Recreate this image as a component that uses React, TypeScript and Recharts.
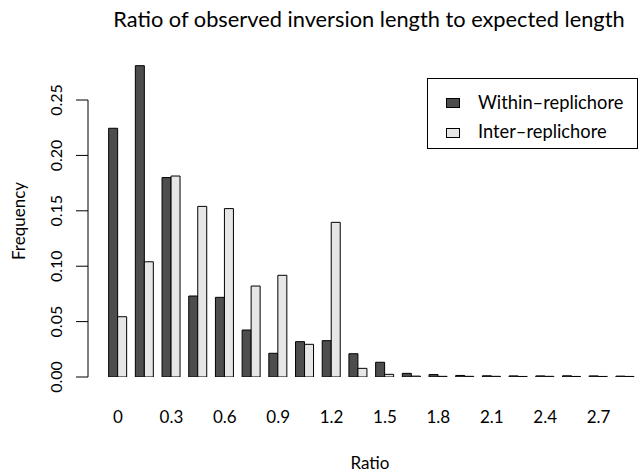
import React from 'react';
import { BarChart, Bar, XAxis, YAxis, ReferenceLine, Legend } from 'recharts';

// ratio bins (lower edge of each bin)
const ratios = [0, 0.15, 0.3, 0.45, 0.6, 0.75, 0.9, 1.05, 1.2, 1.35, 1.5, 1.65, 1.8, 1.95, 2.1, 2.25, 2.4, 2.55, 2.7, 2.85];

// frequencies
const withinReplichore = [0.2245, 0.281, 0.18, 0.0731, 0.0719, 0.0424, 0.0214, 0.0319, 0.0328, 0.021, 0.0133, 0.0033, 0.0022, 0.0014, 0.0011, 0.001, 0.001, 0.0011, 0.001, 0.0008];
const interReplichore = [0.0544, 0.104, 0.1814, 0.154, 0.152, 0.0821, 0.0918, 0.0295, 0.1396, 0.0078, 0.0024, 0.0008, 0.0006, 0.0006, 0.0006, 0.0005, 0.0006, 0.0005, 0.0005, 0.0005];

const xTicks = [0, 0.3, 0.6, 0.9, 1.2, 1.5, 1.8, 2.1, 2.4, 2.7];
const yTicks = [0, 0.05, 0.1, 0.15, 0.2, 0.25];

const seriesNames = ['Within\u2013replichore', 'Inter\u2013replichore'];
const DARK = '#4d4d4d';
const LIGHT = '#e6e6e6';
const FONT = 'Lato, "Open Sans", sans-serif';

const data = ratios.map((r, i) => ({
  ratio: r,
  within: withinReplichore[i],
  inter: interReplichore[i],
}));

const YTick = (props: any) => {
  const { x, y, payload } = props;
  const cx = x - 14;
  return (
    <text
      x={cx}
      y={y}
      transform={`rotate(-90 ${cx} ${y})`}
      textAnchor="middle"
      fontSize={16}
      fontFamily={FONT}
      fill="#000"
    >
      {Number(payload.value).toFixed(2)}
    </text>
  );
};

const LegendBox = () => (
  <svg width={211} height={71} style={{ display: 'block' }}>
    <rect x={0.5} y={0.5} width={210} height={70} fill="#fff" stroke="#000" strokeWidth={1} />
    {seriesNames.map((name, i) => (
      <g key={name}>
        <rect
          x={19.5}
          y={20.5 + i * 30}
          width={13}
          height={9}
          fill={i === 0 ? DARK : LIGHT}
          stroke="#000"
          strokeWidth={1}
        />
        <text x={51} y={30.5 + i * 29.5} fontSize={18.3} fontFamily={FONT} fill="#000">
          {name}
        </text>
      </g>
    ))}
  </svg>
);

export default function App() {
  return (
    <div style={{ position: 'absolute', left: 0, top: 0, width: 642, height: 473, background: '#fff' }}>
      <BarChart
        width={642}
        height={473}
        data={data}
        margin={{ top: 55.7, right: 0, bottom: 56, left: 0 }}
        barGap={0}
      >
        <XAxis
          dataKey="ratio"
          type="number"
          domain={[-0.1685, 2.944]}
          allowDataOverflow
          ticks={xTicks}
          tickFormatter={(v: number) => String(Number(v.toFixed(1)))}
          axisLine={false}
          tickLine={false}
          tickSize={0}
          tickMargin={34}
          height={40}
          interval={0}
          tick={{ fontSize: 17, fontFamily: FONT, fill: '#000' }}
        />
        <YAxis
          type="number"
          domain={[0, 0.29]}
          allowDataOverflow
          ticks={yTicks}
          width={88}
          axisLine={false}
          tickLine={{ stroke: '#000', strokeWidth: 1 }}
          tickSize={12}
          tickMargin={0}
          tick={<YTick />}
          interval={0}
        />
        <ReferenceLine
          segment={[{ x: -0.1685, y: 0 }, { x: -0.1685, y: 0.25 }]}
          stroke="#000"
          strokeWidth={1}
          ifOverflow="visible"
        />
        <Legend
          layout="vertical"
          align="center"
          verticalAlign="middle"
          content={() => <LegendBox />}
          wrapperStyle={{ position: 'absolute', left: 427, top: 78, width: 211, height: 71 }}
        />
        <Bar dataKey="within" name={seriesNames[0]} fill={DARK} stroke="#000" strokeWidth={1} barSize={9} isAnimationActive={false} />
        <Bar dataKey="inter" name={seriesNames[1]} fill={LIGHT} stroke="#000" strokeWidth={1} barSize={9} isAnimationActive={false} />
      </BarChart>
      <svg
        width={642}
        height={473}
        style={{ position: 'absolute', left: 0, top: 0, pointerEvents: 'none' }}
      >
        <text x={369} y={27} textAnchor="middle" fontSize={21.8} fontFamily={FONT} fill="#000">
          Ratio of observed inversion length to expected length
        </text>
        <text x={370} y={469} textAnchor="middle" fontSize={17} fontFamily={FONT} fill="#000">
          Ratio
        </text>
        <text
          x={25}
          y={221}
          transform="rotate(-90 25 221)"
          textAnchor="middle"
          fontSize={17}
          fontFamily={FONT}
          fill="#000"
        >
          Frequency
        </text>
      </svg>
    </div>
  );
}
